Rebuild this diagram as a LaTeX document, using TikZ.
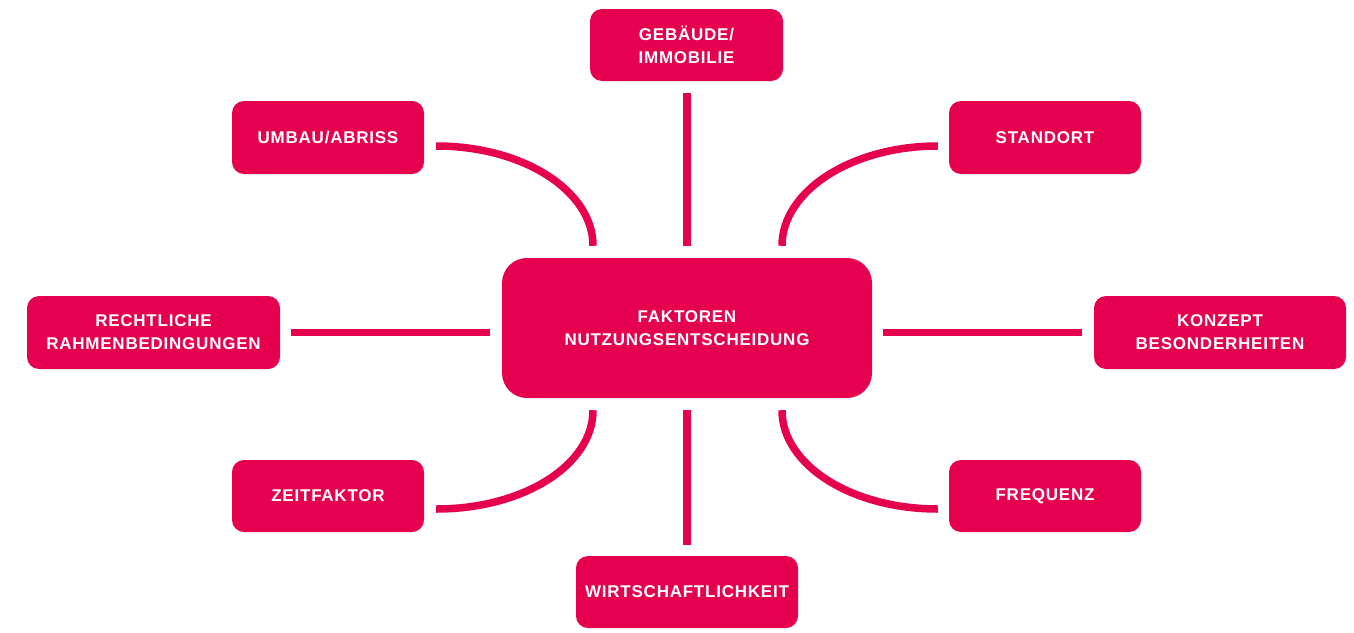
\documentclass[tikz,border=0pt]{standalone}
\usepackage{fontspec}
\setmainfont{Liberation Sans}[LetterSpace=4.5]
\usetikzlibrary{calc}
\definecolor{brand}{RGB}{230,0,80}
\begin{document}
\begin{tikzpicture}[x=1pt,y=-1pt,
  box/.style={fill=brand, text=white, rounded corners=12pt, minimum width=192pt,
    minimum height=72pt, align=center, inner sep=0pt,
    font=\fontsize{17}{23}\selectfont\bfseries},
  hub/.style={box, rounded corners=25pt, minimum width=370pt, minimum height=140pt},
  link/.style={draw=brand, line width=7.5pt}
]
\useasboundingbox (0,0) rectangle (1354,632);

% central topic
\node[hub] (hub) at (687,328) {FAKTOREN\\NUTZUNGSENTSCHEIDUNG};

% surrounding factors
\node[box, minimum width=193pt] (geb) at (686.5,45) {GEBÄUDE/\\IMMOBILIE};
\node[box, minimum height=73pt] (umbau) at (328,137.5) {UMBAU/ABRISS};
\node[box, minimum height=73pt] (standort) at (1045,137.5) {STANDORT};
\node[box, minimum width=253pt, minimum height=73pt] (recht) at (153.5,332.5) {RECHTLICHE\\RAHMENBEDINGUNGEN};
\node[box, minimum width=252pt, minimum height=73pt] (konzept) at (1220,332.5) {KONZEPT\\BESONDERHEITEN};
\node[box] (zeit) at (328,496) {ZEITFAKTOR};
\node[box] (freq) at (1045,496) {FREQUENZ};
\node[box, minimum width=222pt] (wirt) at (687,592) {WIRTSCHAFTLICHKEIT};

% straight connectors, kept on the hub's axes
\draw[link] ([yshift=-12pt]hub.north |- geb.south) -- ([yshift=12pt]hub.north);
\draw[link] ([yshift=-12pt]hub.south) -- ([yshift=11pt]hub.south |- wirt.north);
\draw[link] ([xshift=11pt]recht.east) -- ([xshift=-12pt]hub.west |- recht.east);
\draw[link] ([xshift=11pt]hub.east |- konzept.west) -- ([xshift=-12pt]konzept.west);

% curved connectors (quarter ellipses)
\draw[link] ([xshift=12pt,yshift=-8.5pt]umbau.east)
  .. controls +(87,0) and +(0,-55) .. ([xshift=-94pt,yshift=12pt]hub.north);
\draw[link] ([xshift=-11pt,yshift=-8.5pt]standort.west)
  .. controls +(-86,0) and +(0,-55) .. ([xshift=95pt,yshift=12pt]hub.north);
\draw[link] ([xshift=-94pt,yshift=-12pt]hub.south)
  .. controls +(0,55) and +(87,0) .. ([xshift=12pt,yshift=-13pt]zeit.east);
\draw[link] ([xshift=95pt,yshift=-12pt]hub.south)
  .. controls +(0,55) and +(-86,0) .. ([xshift=-11pt,yshift=-13pt]freq.west);
\end{tikzpicture}
\end{document}
